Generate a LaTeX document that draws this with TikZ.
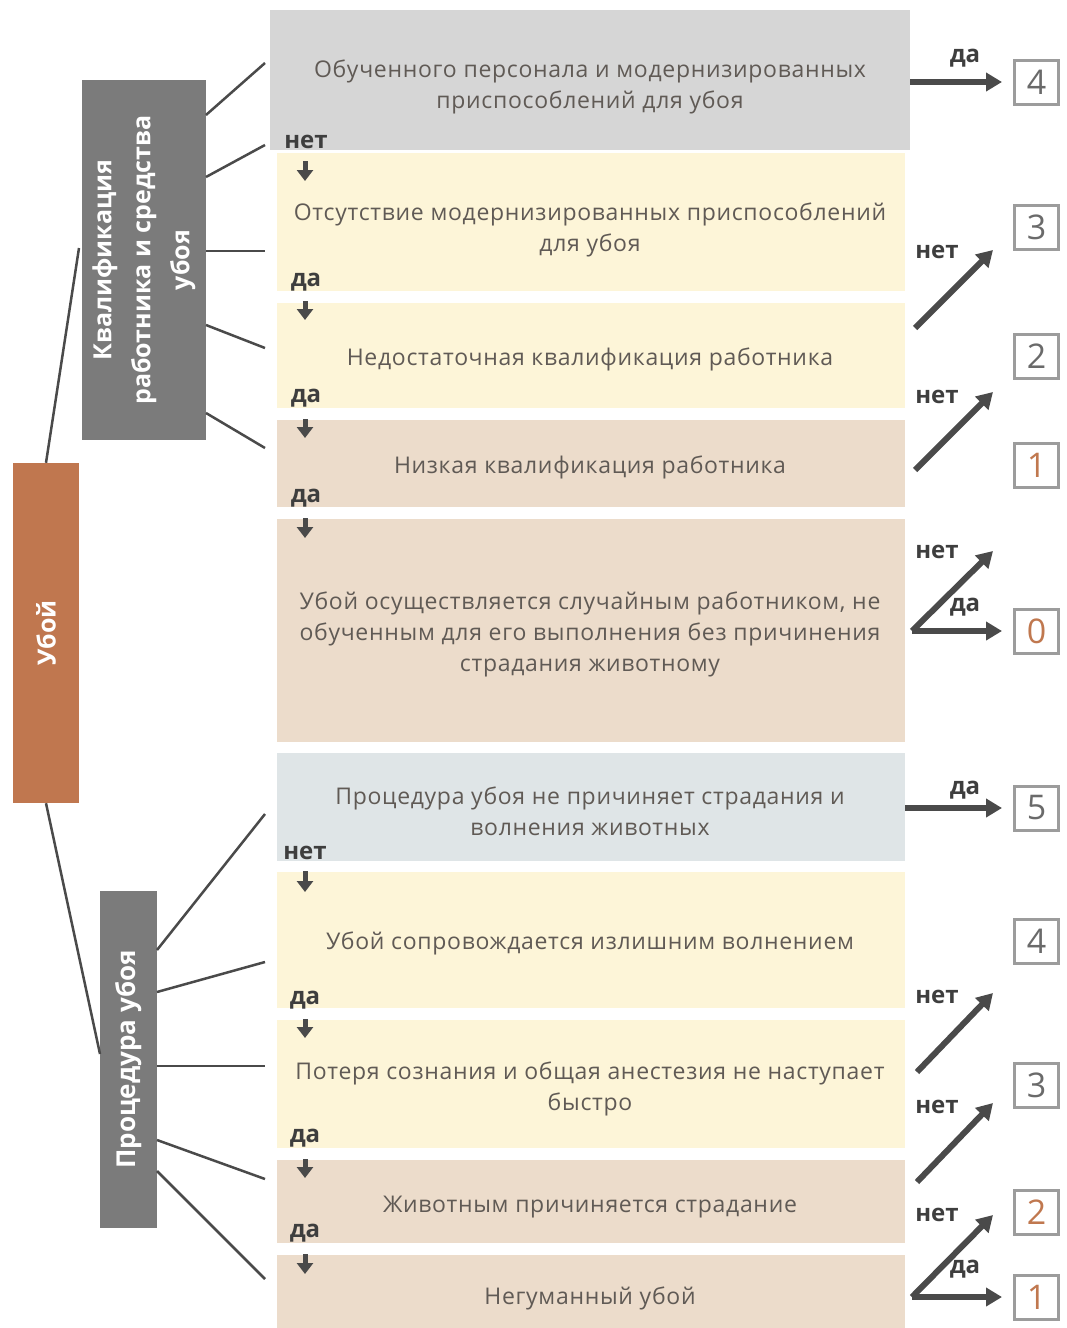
\documentclass[tikz,border=0pt]{standalone}
\usepackage{fontspec}
\setmainfont{Open Sans}
\usetikzlibrary{arrows.meta}
\definecolor{cgrey}{HTML}{D6D6D6}
\definecolor{cyel}{HTML}{FDF5D8}
\definecolor{cbeige}{HTML}{ECDCCB}
\definecolor{cblue}{HTML}{DFE5E7}
\definecolor{cdark}{HTML}{7B7B7B}
\definecolor{corange}{HTML}{C0774F}
\definecolor{ctext}{HTML}{605A55}
\definecolor{clab}{HTML}{3E3E3E}
\definecolor{cline}{HTML}{4A4A4A}
\definecolor{cnum}{HTML}{9C9C9C}
\definecolor{cnumt}{HTML}{6A6A6A}
\definecolor{cnumo}{HTML}{C0784F}
\begin{document}
\begin{tikzpicture}[x=1pt,y=-1pt,
  box/.style={rectangle, inner sep=0pt, minimum width=628pt},
  txt/.style={inner sep=0pt, text=ctext, align=center,
    font=\fontsize{23}{31}\selectfont\addfontfeature{LetterSpace=3}},
  side/.style={rectangle, inner sep=0pt, text=white, rotate=90,
    font=\bfseries\fontsize{25}{39}\selectfont, align=center},
  numbox/.style={rectangle, draw=cnum, line width=3pt, minimum width=44pt,
    minimum height=44pt, inner sep=0pt, text=cnumt, font=\fontsize{34}{34}\selectfont},
  lab/.style={text=clab, font=\bfseries\fontsize{24}{24}\selectfont, inner sep=0pt},
  yesarrow/.style={line width=6pt, draw=cline, -{Triangle[length=16pt,width=18pt]}},
  downarrow/.style={line width=5pt, draw=cline, -{Triangle[length=11pt,width=16pt]}},
  conn/.style={line width=2.5pt, draw=cline}
]
\useasboundingbox (0,0) rectangle (1067,1328);

% main column boxes
\node[box, fill=cgrey, minimum width=640pt, minimum height=140pt] (b1) at (590,80) {};
\node[box, fill=cyel, minimum height=138pt] (b2) at (591,222) {};
\node[box, fill=cyel, minimum height=105pt] (b3) at (591,355.5) {};
\node[box, fill=cbeige, minimum height=87pt] (b4) at (591,463.5) {};
\node[box, fill=cbeige, minimum height=223pt] (b5) at (591,630.5) {};
\node[box, fill=cblue, minimum height=108pt] (b6) at (591,807) {};
\node[box, fill=cyel, minimum height=136pt] (b7) at (591,940) {};
\node[box, fill=cyel, minimum height=128pt] (b8) at (591,1084) {};
\node[box, fill=cbeige, minimum height=83pt] (b9) at (591,1201.5) {};
\node[box, fill=cbeige, minimum height=73pt] (b10) at (591,1291.5) {};

\node[txt] (t1) at (590,87) {Обученного персонала и модернизированных\\приспособлений для убоя};
\node[txt] (t2) at (590,230) {Отсутствие модернизированных приспособлений\\для убоя};
\node[txt] (t3) at (590,359) {Недостаточная квалификация работника};
\node[txt] (t4) at (590,467) {Низкая квалификация работника};
\node[txt] (t5) at (590,634) {Убой осуществляется случайным работником, не\\обученным для его выполнения без причинения\\страдания животному};
\node[txt] (t6) at (590,811) {Процедура убоя не причиняет страдания и\\волнения животных};
\node[txt] (t7) at (590,943) {Убой сопровождается излишним волнением};
\node[txt] (t8) at (590,1089) {Потеря сознания и общая анестезия не наступает\\быстро};
\node[txt] (t9) at (590,1207) {Животным причиняется страдание};
\node[txt] (t10) at (590,1298) {Негуманный убой};

% left category boxes
\node[side, fill=corange, minimum width=340pt, minimum height=66pt] (ub) at (46,633) {Убой};
\node[side, fill=cdark, minimum width=360pt, minimum height=124pt] (kv) at (144,260)
  {Квалификация\\работника и средства\\убоя};
\node[side, fill=cdark, minimum width=337pt, minimum height=57pt,
  font=\bfseries\fontsize{26}{30}\selectfont] (pr) at (128.5,1059.5) {Процедура убоя};

% connectors from Убой
\coordinate (kvin) at (79,248);
\coordinate (prin) at (100,1054);
\draw[conn] (ub.east) -- (kvin);
\draw[conn] (ub.west) -- (prin);

% connectors from kv
\coordinate (k1) at (206,115); \coordinate (e1) at (265,63);
\coordinate (k2) at (206,177); \coordinate (e2) at (265,145);
\coordinate (k3) at (206,251); \coordinate (e3) at (265,251);
\coordinate (k4) at (206,325); \coordinate (e4) at (265,348);
\coordinate (k5) at (206,413); \coordinate (e5) at (265,448);
\foreach \i in {1,...,5} {\draw[conn] (k\i) -- (e\i);}

% connectors from pr
\coordinate (p1) at (157,950);  \coordinate (f1) at (265,814);
\coordinate (p2) at (157,992);  \coordinate (f2) at (265,962);
\coordinate (p3) at (157,1066); \coordinate (f3) at (265,1066);
\coordinate (p4) at (157,1140); \coordinate (f4) at (265,1179);
\coordinate (p5) at (157,1171); \coordinate (f5) at (265,1279);
\foreach \i in {1,...,5} {\draw[conn] (p\i) -- (f\i);}

% down labels and arrows
\node[lab] (l1) at (306,142) {нет};
\node[lab] (l2) at (306,282) {да};
\node[lab] (l3) at (306,398) {да};
\node[lab] (l4) at (306,498) {да};
\node[lab] (l5) at (305,853) {нет};
\node[lab] (l6) at (305,1000) {да};
\node[lab] (l7) at (305,1138) {да};
\node[lab] (l8) at (305,1233) {да};
\coordinate (d1s) at (305,161);  \coordinate (d1e) at (305,181);
\coordinate (d2s) at (305,301);  \coordinate (d2e) at (305,320);
\coordinate (d3s) at (305,419);  \coordinate (d3e) at (305,438);
\coordinate (d4s) at (305,518);  \coordinate (d4e) at (305,538);
\coordinate (d5s) at (305,871);  \coordinate (d5e) at (305,892);
\coordinate (d6s) at (305,1019); \coordinate (d6e) at (305,1038);
\coordinate (d7s) at (305,1159); \coordinate (d7e) at (305,1178);
\coordinate (d8s) at (305,1254); \coordinate (d8e) at (305,1274);
\foreach \i in {1,...,8} {\draw[downarrow] (d\i s) -- (d\i e);}

% score boxes
\node[numbox] (n1) at (1036.5,82) {4};
\node[numbox] (n2) at (1036.5,227) {3};
\node[numbox] (n3) at (1036.5,356) {2};
\node[numbox, text=cnumo] (n4) at (1036.5,465) {1};
\node[numbox, text=cnumo] (n5) at (1036.5,631) {0};
\node[numbox] (n6) at (1036.5,808) {5};
\node[numbox] (n7) at (1036.5,941) {4};
\node[numbox] (n8) at (1036.5,1085) {3};
\node[numbox, text=cnumo] (n9) at (1036.5,1212) {2};
\node[numbox, text=cnumo] (n10) at (1036.5,1297) {1};

% right arrows
\draw[yesarrow, shorten >=11pt] (b1.east |- n1.west) -- (n1.west);
\node[lab] at (965,58) {да};

\coordinate (a2s) at (915,328); \coordinate (a2e) at (993,250);
\draw[yesarrow] (a2s) -- (a2e);
\node[lab] at (937,252) {нет};

\coordinate (a3s) at (915,470); \coordinate (a3e) at (993,392);
\draw[yesarrow] (a3s) -- (a3e);
\node[lab] at (937,397) {нет};

\coordinate (a5s) at (912,631); \coordinate (a5e) at (993,551);
\draw[yesarrow] (a5s) -- (a5e);
\node[lab] at (937,552) {нет};
\draw[yesarrow, shorten >=11pt] (a5s) -- (n5.west);
\node[lab] at (965,607) {да};

\draw[yesarrow, shorten >=11pt] (b6.east |- n6.west) -- (n6.west);
\node[lab] at (965,790) {да};

\coordinate (a7s) at (917,1072); \coordinate (a7e) at (993,993);
\draw[yesarrow] (a7s) -- (a7e);
\node[lab] at (937,997) {нет};

\coordinate (a8s) at (917,1182); \coordinate (a8e) at (993,1103);
\draw[yesarrow] (a8s) -- (a8e);
\node[lab] at (937,1107) {нет};

\coordinate (a9s) at (912,1297); \coordinate (a9e) at (993,1215);
\draw[yesarrow] (a9s) -- (a9e);
\node[lab] at (937,1215) {нет};
\draw[yesarrow, shorten >=11pt] (a9s) -- (n10.west);
\node[lab] at (965,1269) {да};
\end{tikzpicture}
\end{document}
